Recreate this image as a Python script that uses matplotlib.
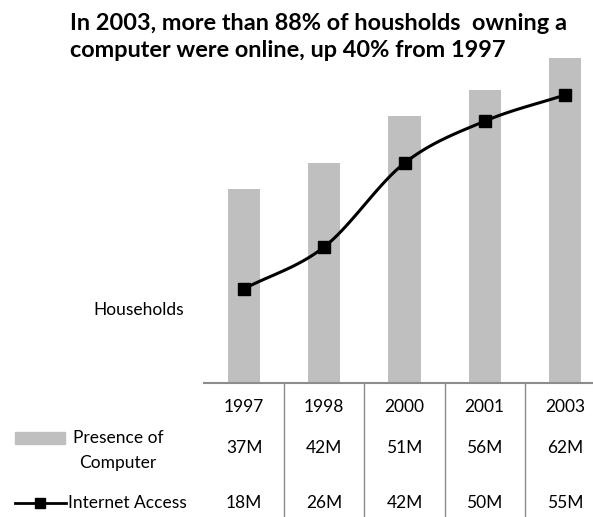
import matplotlib.pyplot as plt
import matplotlib.transforms as mtransforms
from matplotlib.lines import Line2D
from matplotlib.patches import Rectangle
import numpy as np

plt.rcParams['font.family'] = ['Lato', 'DejaVu Sans']

# ====== data ======
years = ['1997', '1998', '2000', '2001', '2003']
computer = [37, 42, 51, 56, 62]      # households with a computer (millions)
internet = [18, 26, 42, 50, 55]      # households with internet access (millions)
computer_labels = ['37M', '42M', '51M', '56M', '62M']
internet_labels = ['18M', '26M', '42M', '50M', '55M']

title = 'In 2003, more than 88% of housholds  owning a\ncomputer were online, up 40% from 1997'

bar_color = '#bfbfbf'
grid_color = '#8c8c8c'

W, H = 593, 517
fig = plt.figure(figsize=(W / 100, H / 100), dpi=100)


def fy(py):
    # pixel row (from top) -> figure fraction
    return 1 - py / H


def fx(px):
    return px / W


ax_left, ax_right = 204, 605
ax_top, ax_bottom = 40, 383
ax = fig.add_axes([fx(ax_left), fy(ax_bottom), fx(ax_right - ax_left), (ax_bottom - ax_top) / H])

x = np.arange(len(years))
ax.bar(x, computer, width=0.4, color=bar_color, zorder=1)


# smoothed line like a spreadsheet "smoothed line" series (Catmull-Rom through points)
def smooth(xs, ys, n=30):
    xs = np.asarray(xs, float)
    ys = np.asarray(ys, float)
    px = np.concatenate([[2 * xs[0] - xs[1]], xs, [2 * xs[-1] - xs[-2]]])
    py = np.concatenate([[2 * ys[0] - ys[1]], ys, [2 * ys[-1] - ys[-2]]])
    out_x, out_y = [], []
    t = np.linspace(0, 1, n)
    for i in range(1, len(px) - 2):
        p0, p1, p2, p3 = [np.array([px[j], py[j]]) for j in range(i - 1, i + 3)]
        c1 = p1 + (p2 - p0) / 6
        c2 = p2 - (p3 - p1) / 6
        b = ((1 - t) ** 3)[:, None] * p1 + (3 * (1 - t) ** 2 * t)[:, None] * c1 \
            + (3 * (1 - t) * t ** 2)[:, None] * c2 + (t ** 3)[:, None] * p2
        out_x.extend(b[:, 0])
        out_y.extend(b[:, 1])
    return out_x, out_y


sx, sy = smooth(x, internet)
ax.plot(sx, sy, color='black', lw=2.2, zorder=2, solid_capstyle='round')
ax.plot(x, internet, ls='none', marker='s', ms=8, color='black', zorder=3)

ax.set_xlim(-0.5, 4.5)
ax.set_ylim(0, 65.5)
ax.axis('off')

# baseline of the plot area
fig.add_artist(Line2D([fx(ax_left), 1.0], [fy(ax_bottom), fy(ax_bottom)],
                      color=grid_color, lw=1.5))

# ====== data table under the chart ======
trans = mtransforms.blended_transform_factory(ax.transData, fig.transFigure)
for b in np.arange(0.5, len(years) - 0.5, 1.0):
    fig.add_artist(Line2D([b, b], [fy(ax_bottom), 0], transform=trans,
                          color=grid_color, lw=1.0))

table_fs = 12.5
for i, yr in enumerate(years):
    fig.text(i, fy(407), yr, transform=trans, ha='center', va='center', fontsize=table_fs)
    fig.text(i, fy(448), computer_labels[i], transform=trans, ha='center', va='center', fontsize=table_fs)
    fig.text(i, fy(503), internet_labels[i], transform=trans, ha='center', va='center', fontsize=table_fs)

# legend keys
fig.add_artist(Rectangle((fx(15), fy(444)), fx(50), 12 / H, color=bar_color,
                         transform=fig.transFigure))
fig.text(fx(118), fy(438), 'Presence of', ha='center', va='center', fontsize=table_fs)
fig.text(fx(118), fy(463), 'Computer', ha='center', va='center', fontsize=table_fs)

fig.add_artist(Line2D([fx(15), fx(66)], [fy(503), fy(503)], color='black', lw=2))
fig.add_artist(Line2D([fx(40)], [fy(503)], marker='s', ms=7, color='black'))
fig.text(fx(68), fy(503), 'Internet Access', ha='left', va='center', fontsize=table_fs)

fig.text(fx(93), fy(310), 'Households', ha='left', va='center', fontsize=table_fs)

fig.text(fx(70), fy(37), title, ha='left', va='center', fontsize=16.9,
         fontweight='bold', linespacing=1.35)

fig.savefig('out.png', dpi=100)
